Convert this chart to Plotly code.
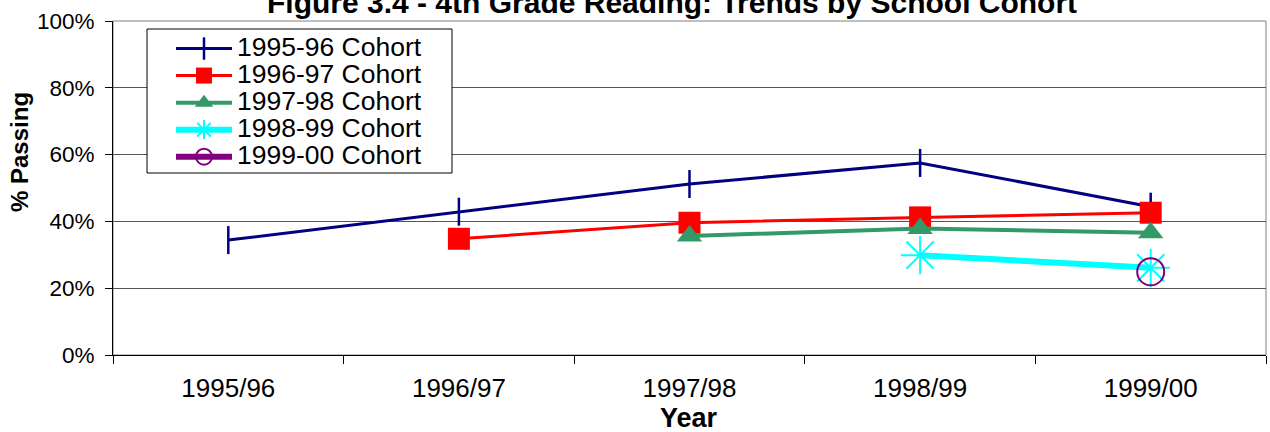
import plotly.graph_objects as go

years = ["1995/96", "1996/97", "1997/98", "1998/99", "1999/00"]
cohort_names = ["1995-96 Cohort", "1996-97 Cohort", "1997-98 Cohort", "1998-99 Cohort", "1999-00 Cohort"]
c9596 = [34.4, 42.9, 51.2, 57.5, 44.4]
c9697 = [None, 34.8, 39.6, 41.2, 42.6]
c9798 = [None, None, 35.6, 37.9, 36.6]
c9899 = [None, None, None, 29.9, 26.1]
c9900 = [None, None, None, None, 24.9]
y_ticks = [0, 20, 40, 60, 80, 100]
y_ticktext = ["0%", "20%", "40%", "60%", "80%", "100%"]

FONT = "Arial, Liberation Sans, sans-serif"
W, H = 1270, 432
ML, MR, MT, MB = 113, 4, 21, 77
PW, PH = W - ML - MR, H - MT - MB

styles = [
    dict(color="#000080", width=3, symbol="line-ns", size=20, mline=2.5, mcolor="#000080", fill="#000080"),
    dict(color="#FF0000", width=3, symbol="square", size=22, mline=0, mcolor="#FF0000", fill="#FF0000"),
    dict(color="#339966", width=4, symbol="triangle-up", size=22, mline=0, mcolor="#339966", fill="#339966"),
    dict(color="#00FFFF", width=6, symbol="asterisk", size=32, mline=2, mcolor="#00FFFF", fill="#00FFFF"),
    dict(color="#800080", width=6, symbol="circle-open", size=27, mline=2, mcolor="#800080", fill="#800080"),
]

fig = go.Figure()
for name, vals, st in zip(cohort_names, [c9596, c9697, c9798, c9899, c9900], styles):
    fig.add_trace(go.Scatter(
        x=years, y=vals,
        name='<span style="font-size:26.5px">' + name + '</span>',
        mode="lines+markers",
        line=dict(color=st["color"], width=st["width"]),
        marker=dict(symbol=st["symbol"], size=st["size"], color=st["fill"],
                    line=dict(color=st["mcolor"], width=st["mline"])),
        connectgaps=False,
    ))

fig.update_layout(
    width=W, height=H,
    margin=dict(l=ML, r=MR, t=MT, b=MB),
    paper_bgcolor="white", plot_bgcolor="white",
    font=dict(family=FONT, color="black"),
    showlegend=True,
    legend=dict(
        x=(171 - ML) / PW, y=(355 - 30) / PH, xanchor="left", yanchor="top",
        bgcolor="rgba(0,0,0,0)", borderwidth=0,
        font=dict(family=FONT, size=18.5, color="black"),
        itemwidth=56, tracegroupgap=0,
    ),
    xaxis=dict(
        type="category", range=[-0.5, 4.5], tickson="boundaries",
        ticks="outside", ticklen=8, tickcolor="black", tickwidth=1,
        showline=True, linecolor="black", linewidth=1,
        showgrid=False, zeroline=False,
        tickfont=dict(family=FONT, size=26, color="black"),
        ticklabelstandoff=10,
    ),
    yaxis=dict(
        range=[0, 100], tickvals=y_ticks, ticktext=y_ticktext,
        ticks="outside", ticklen=7, tickcolor="black", tickwidth=1,
        showline=True, linecolor="black", linewidth=1,
        showgrid=True, gridcolor="#555555", gridwidth=1,
        zeroline=False,
        tickfont=dict(family=FONT, size=22.5, color="black"),
        ticklabelstandoff=6,
    ),
    shapes=[
        dict(type="rect", xref="paper", yref="paper", x0=0, x1=1, y0=0, y1=1,
             line=dict(color="#808080", width=1), layer="below"),
        # legend frame
        dict(type="rect", xref="paper", yref="paper",
             x0=(147 - ML) / PW, x1=(452 - ML) / PW,
             y0=((H - MB) - 173) / PH, y1=((H - MB) - 29) / PH,
             line=dict(color="black", width=1), fillcolor="white", layer="above"),
    ],
    annotations=[
        dict(text="<b>Figure 3.4 - 4th Grade Reading: Trends by School Cohort</b>",
             xref="paper", yref="paper", x=(672 - ML) / PW, y=1 + (MT - 2.5) / PH,
             xanchor="center", yanchor="middle",
             showarrow=False, font=dict(family=FONT, size=30, color="black")),
        dict(text="<b>Year</b>", xref="paper", yref="paper", x=(689 - ML) / PW, y=-(418 - (H - MB)) / PH,
             xanchor="center", yanchor="middle", showarrow=False,
             font=dict(family=FONT, size=27, color="black")),
        dict(text="<b>% Passing</b>", xref="paper", yref="paper", x=(19 - ML) / PW, y=((H - MB) - 152) / PH,
             xanchor="center", yanchor="middle", textangle=-90, showarrow=False,
             font=dict(family=FONT, size=24, color="black")),
    ],
)

fig.write_html("out.html", config={"displayModeBar": False},
               post_script="document.body.style.margin='0px';")
